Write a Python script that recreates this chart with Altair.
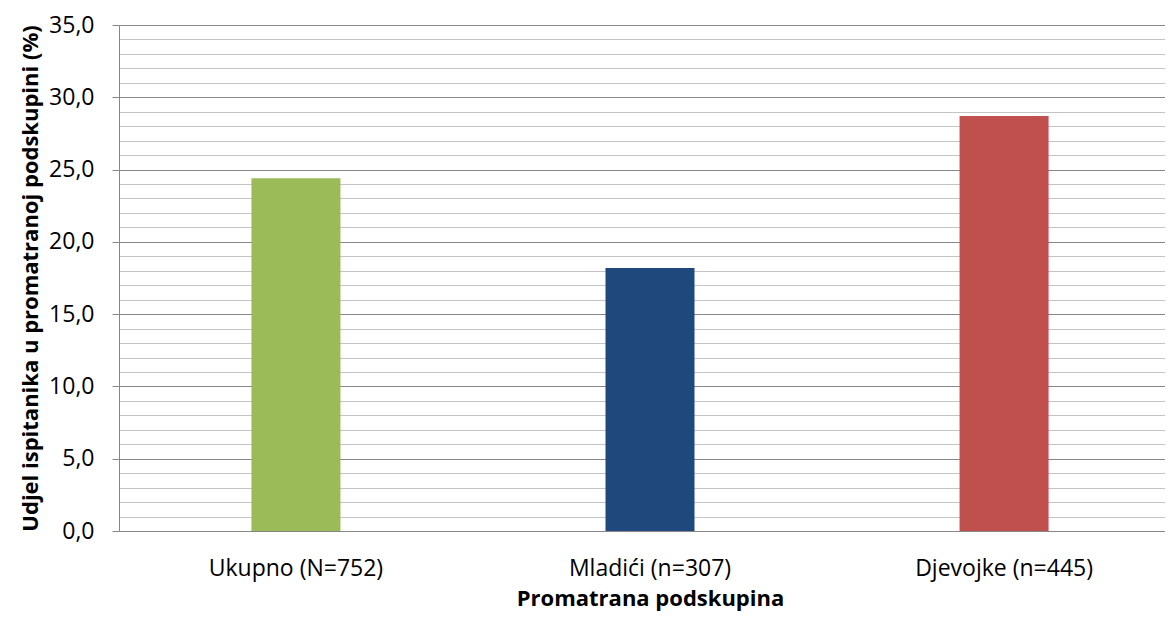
import altair as alt
import pandas as pd

categories = ["Ukupno (N=752)", "Mladići (n=307)", "Djevojke (n=445)"]
values = [24.4, 18.2, 28.7]
colors = ["#9BBB59", "#1F497D", "#C0504D"]
major_ticks = [0, 5, 10, 15, 20, 25, 30, 35]
minor_ticks = [v for v in range(0, 36) if v % 5 != 0]

df = pd.DataFrame({"cat": categories, "val": values})

FONT = "Open Sans"
FS = 23
TFS = 22
x_scale = alt.Scale(domain=categories, range=[0, 1062], paddingInner=0.7486, paddingOuter=0.374)
y_scale = alt.Scale(domain=[0, 35], nice=False, zero=True)

x_axis = alt.Axis(
    title="Promatrana podskupina", labelAngle=0, ticks=False, domain=False,
    labelFont=FONT, labelFontSize=FS, labelColor="#000000", labelPadding=26,
    titleFont=FONT, titleFontSize=TFS, titleFontWeight="bold", titleColor="#000000",
    titleX=531, titleY=74, titleBaseline="alphabetic", titleAlign="center")

minor = alt.Chart(df).mark_bar(opacity=0).encode(
    x=alt.X("cat:N", scale=x_scale, axis=x_axis, sort=categories),
    y=alt.Y("val:Q", scale=y_scale, axis=alt.Axis(
        values=minor_ticks, grid=True, gridColor="#c4c4c4", gridWidth=1,
        labels=False, ticks=False, domain=False, title=None, orient="left",
        minExtent=0, maxExtent=0)),
)

bars = alt.Chart(df).mark_bar().encode(
    x=alt.X("cat:N", scale=x_scale, sort=categories, axis=x_axis),
    y=alt.Y("val:Q", scale=y_scale, axis=alt.Axis(
        values=major_ticks, grid=True, gridColor="#878787", gridWidth=1,
        labelExpr="replace(format(datum.value, '.1f'), '.', ',')",
        tickColor="#878787", tickSize=7, domainColor="#878787",
        labelFont=FONT, labelFontSize=FS, labelColor="#000000", labelPadding=18,
        labelAlign="right",
        title="Udjel ispitanika u promatranoj podskupini (%)",
        titleFont=FONT, titleFontSize=TFS, titleFontWeight="bold", titleColor="#000000",
        titleX=-82, titleY=253, titleBaseline="alphabetic", titleAlign="center",
        titleAngle=270, orient="left")),
    color=alt.Color("cat:N", scale=alt.Scale(domain=categories, range=colors), legend=None),
)

chart = alt.layer(minor, bars).resolve_scale(y="shared").resolve_axis(y="independent").properties(
    width=1046, height=506,
    autosize=alt.AutoSizeParams(type="none"),
    padding={"left": 111, "top": 17, "right": 0, "bottom": 80},
).configure_view(stroke=None).configure(background="#ffffff")

chart.save("out.html", embed_options={"renderer": "svg", "actions": False})
